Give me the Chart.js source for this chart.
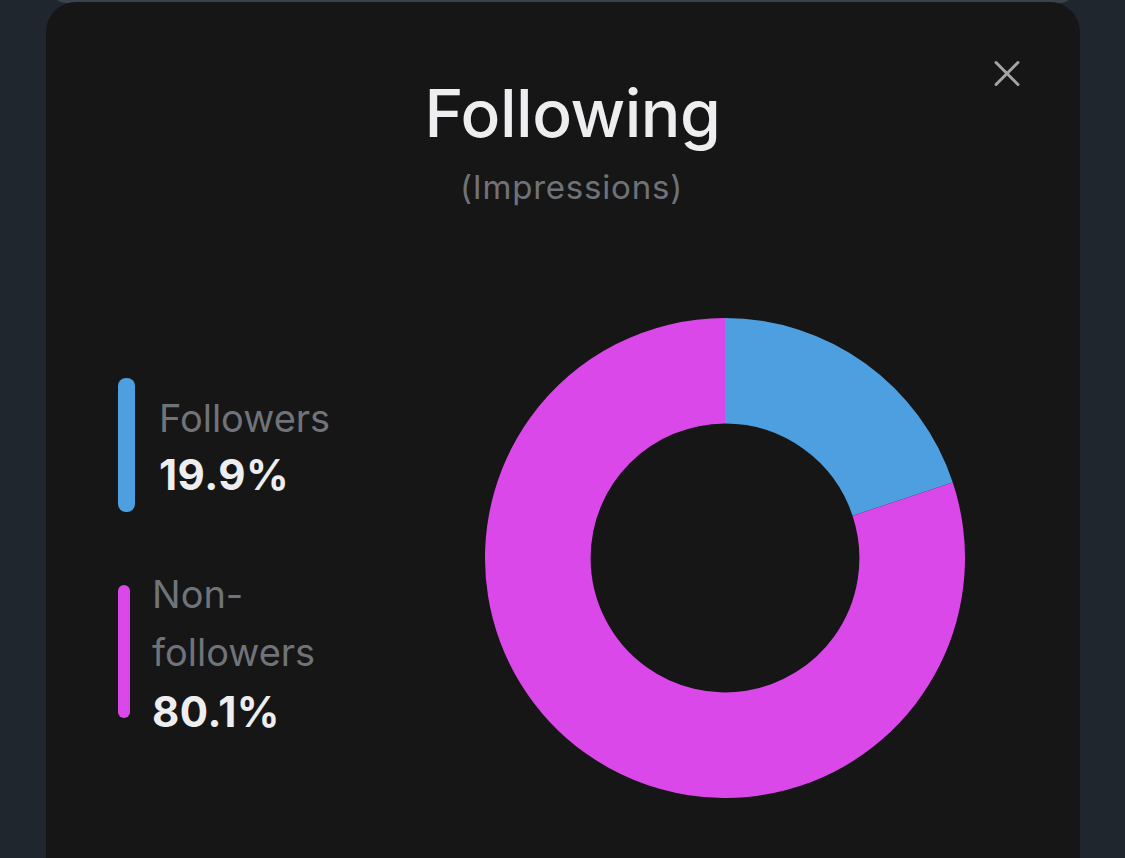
<!DOCTYPE html>
<html>
<head>
<meta charset="utf-8">
<script src="https://cdn.jsdelivr.net/npm/chart.js@4"></script>
<style>
  html, body { margin: 0; padding: 0; }
  body {
    width: 1125px; height: 858px; overflow: hidden;
    background: #1f262d;
    font-family: Inter, "Open Sans", sans-serif;
    position: relative;
  }
  .behind {
    position: absolute; left: 50px; top: -30px; width: 1026px; height: 33px;
    background: #3a424c; border-radius: 30px;
  }
  .card {
    position: absolute; left: 46px; top: 2px; width: 1034px; height: 900px;
    background: #161617; border-radius: 30px;
  }
  .close {
    position: absolute; left: 990px; top: 56px; width: 34px; height: 34px;
  }
  .close:before, .close:after {
    content: ""; position: absolute; left: 0; top: 16px; width: 34px; height: 3px;
    background: #a4a4a6; border-radius: 2px;
  }
  .close:before { transform: rotate(45deg); }
  .close:after { transform: rotate(-45deg); }
  h1 {
    position: absolute; left: 0; width: 1145px; top: 73px; margin: 0;
    text-align: center; color: #eeeef0; font-size: 66px; font-weight: 500;
    letter-spacing: -0.5px; line-height: 80px;
  }
  .sub {
    position: absolute; left: 0; width: 1143px; top: 166px;
    text-align: center; color: #6f7378; font-size: 33px; letter-spacing: 0.8px;
    line-height: 42px;
  }
  .legend .bar { position: absolute; border-radius: 8px; }
  .legend .name { position: absolute; color: #707479; font-size: 38px; line-height: 58px; white-space: nowrap; }
  .legend .pct { position: absolute; color: #eeeef0; font-size: 42px; font-weight: 700; line-height: 50px; letter-spacing: 0.5px; white-space: nowrap; }
  #wrap { position: absolute; left: 485px; top: 318px; width: 480px; height: 480px; }
</style>
</head>
<body>
<div class="behind"></div>
<div class="card"></div>
<div class="close"></div>
<h1>Following</h1>
<div class="sub">(Impressions)</div>
<div class="legend" id="legend"></div>
<div id="wrap"><canvas id="donut"></canvas></div>
<script>
const labels = ["Followers", "Non-followers"];
const nameLines = [["Followers"], ["Non-", "followers"]];
const values = [19.9, 80.1];
const colors = ["#4d9fe0", "#db48e9"];

// legend (hand placed to match the screenshot)
const legendPos = [
  { bar: [118, 378, 17, 134], text: 159, top: 389, pctTop: 450 },
  { bar: [118, 585, 12, 133], text: 152, top: 565, pctTop: 687 }
];
const legend = document.getElementById("legend");
values.forEach((v, i) => {
  const p = legendPos[i];
  const bar = document.createElement("div");
  bar.className = "bar";
  bar.style.cssText = `left:${p.bar[0]}px;top:${p.bar[1]}px;width:${p.bar[2]}px;height:${p.bar[3]}px;background:${colors[i]}`;
  legend.appendChild(bar);
  const name = document.createElement("div");
  name.className = "name";
  name.style.left = p.text + "px";
  name.style.top = p.top + "px";
  name.innerHTML = nameLines[i].join("<br>");
  legend.appendChild(name);
  const pct = document.createElement("div");
  pct.className = "pct";
  pct.style.left = p.text + "px";
  pct.style.top = p.pctTop + "px";
  pct.textContent = v.toFixed(1) + "%";
  legend.appendChild(pct);
});

new Chart(document.getElementById("donut"), {
  type: "doughnut",
  data: {
    labels: labels,
    datasets: [{
      data: values,
      backgroundColor: colors,
      borderWidth: 0
    }]
  },
  options: {
    responsive: true,
    maintainAspectRatio: false,
    animation: false,
    cutout: "56%",
    layout: { padding: 0 },
    plugins: {
      legend: { display: false },
      tooltip: { enabled: false }
    }
  }
});
</script>
</body>
</html>
